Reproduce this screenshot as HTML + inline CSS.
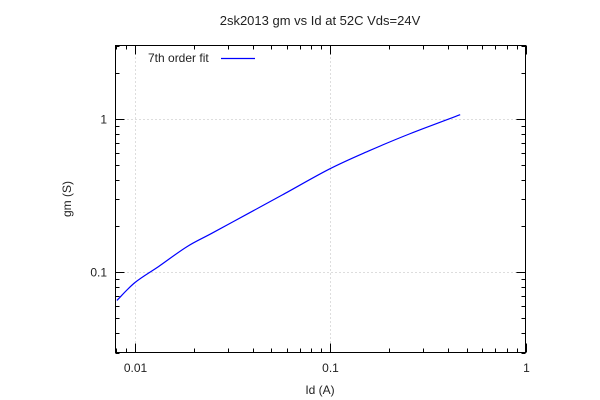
<!DOCTYPE html>
<html><head><meta charset="utf-8"><style>
html,body{margin:0;padding:0;background:#fff;}
svg{display:block;font-family:"Liberation Sans",sans-serif;}
</style></head><body>
<svg id="chart" width="600" height="400" viewBox="0 0 600 400" xmlns="http://www.w3.org/2000/svg">
<rect width="600" height="400" fill="#fff"/>
<g id="grid"></g>
<g id="ticks"></g>
<rect x="115.5" y="45.5" width="410" height="307" fill="none" stroke="#000" stroke-width="1"/>
<g id="labels" font-size="12" fill="#222"></g>
<path id="curve" fill="none" stroke="#0000ff" stroke-width="1.2"/>
<text x="320" y="25" text-anchor="middle" font-size="13" fill="#222">2sk2013 gm vs Id at 52C Vds=24V</text>
<text x="320" y="394" text-anchor="middle" font-size="12" fill="#222">Id (A)</text>
<text transform="translate(71,199) rotate(-90)" text-anchor="middle" font-size="12" fill="#222">gm (S)</text>
<g>
<text x="148" y="62" font-size="12" fill="#222">7th order fit</text>
<line x1="221" y1="58.5" x2="255" y2="58.5" stroke="#0000ff" stroke-width="1.2"/>
</g>
</svg>
<script>
const xData = [0.00808, 0.01, 0.0132, 0.0185, 0.0248, 0.0383, 0.0569, 0.0987, 0.1585, 0.254, 0.463];
const yData = [0.0655, 0.0857, 0.1089, 0.147, 0.1796, 0.2424, 0.319, 0.469, 0.619, 0.795, 1.062];
const xTickVals = [0.01, 0.1, 1];
const xTickLabels = ["0.01", "0.1", "1"];
const yTickVals = [0.1, 1];
const yTickLabels = ["0.1", "1"];
const X0=115.5,X1=525.5,Y0=352.5,Y1=45.5;
const xMin=0.00795,xMax=1,yMin=0.03,yMax=3;
function sx(v){return X0+(Math.log10(v)-Math.log10(xMin))/(Math.log10(xMax)-Math.log10(xMin))*(X1-X0);}
function sy(v){return Y0-(Math.log10(v)-Math.log10(yMin))/(Math.log10(yMax)-Math.log10(yMin))*(Y0-Y1);}
const NS="http://www.w3.org/2000/svg";
const grid=document.getElementById('grid'),ticks=document.getElementById('ticks'),labels=document.getElementById('labels');
function line(p,x1,y1,x2,y2,st,dash){const l=document.createElementNS(NS,'line');l.setAttribute('x1',x1);l.setAttribute('y1',y1);l.setAttribute('x2',x2);l.setAttribute('y2',y2);l.setAttribute('stroke',st);if(dash)l.setAttribute('stroke-dasharray',dash);p.appendChild(l);return l;}
xTickVals.forEach((v,i)=>{const x=Math.round(sx(v))+0.5;
 if(v<xMax){const g=line(grid,x,Y1,x,Y0,'#bbb','1,3');
 
 }
 const t=document.createElementNS(NS,'text');t.setAttribute('x',x);t.setAttribute('y',372);t.setAttribute('text-anchor','middle');t.textContent=xTickLabels[i];
 
 
 labels.appendChild(t);});
yTickVals.forEach((v,i)=>{const y=Math.round(sy(v))+0.5;
 const g=line(grid,X0,y,X1,y,'#bbb','1,3');
 
 
 const t=document.createElementNS(NS,'text');t.setAttribute('x',107);t.setAttribute('y',y+4);t.setAttribute('text-anchor','end');t.textContent=yTickLabels[i];
 
 
 labels.appendChild(t);});
for(let d=-3;d<=0;d++)for(let m=1;m<=9;m++){const v=m*Math.pow(10,d);if(v<xMin||v>xMax)continue;const x=Math.round(sx(v))+0.5;const L=m==1?9:4;
 const a=line(ticks,x,Y0,x,Y0-L,'#000');
 const b=line(ticks,x,Y1,x,Y1+L,'#000');}
for(let d=-2;d<=0;d++)for(let m=1;m<=9;m++){const v=m*Math.pow(10,d);if(v<yMin||v>yMax)continue;const y=Math.round(sy(v))+0.5;const L=m==1?9:4;
 const a=line(ticks,X0,y,X0+L,y,'#000');
 const b=line(ticks,X1,y,X1-L,y,'#000');}
const pts=xData.map((v,i)=>[sx(v),sy(yData[i])]);
let d='M'+pts[0][0].toFixed(1)+','+pts[0][1].toFixed(1);
for(let i=0;i<pts.length-1;i++){const p0=pts[Math.max(0,i-1)],p1=pts[i],p2=pts[i+1],p3=pts[Math.min(pts.length-1,i+2)];
 const c1=[p1[0]+(p2[0]-p0[0])/6,p1[1]+(p2[1]-p0[1])/6],c2=[p2[0]-(p3[0]-p1[0])/6,p2[1]-(p3[1]-p1[1])/6];
 d+=' C'+c1.map(n=>n.toFixed(1))+' '+c2.map(n=>n.toFixed(1))+' '+p2.map(n=>n.toFixed(1));}
document.getElementById('curve').setAttribute('d',d);
</script>
</body></html>
